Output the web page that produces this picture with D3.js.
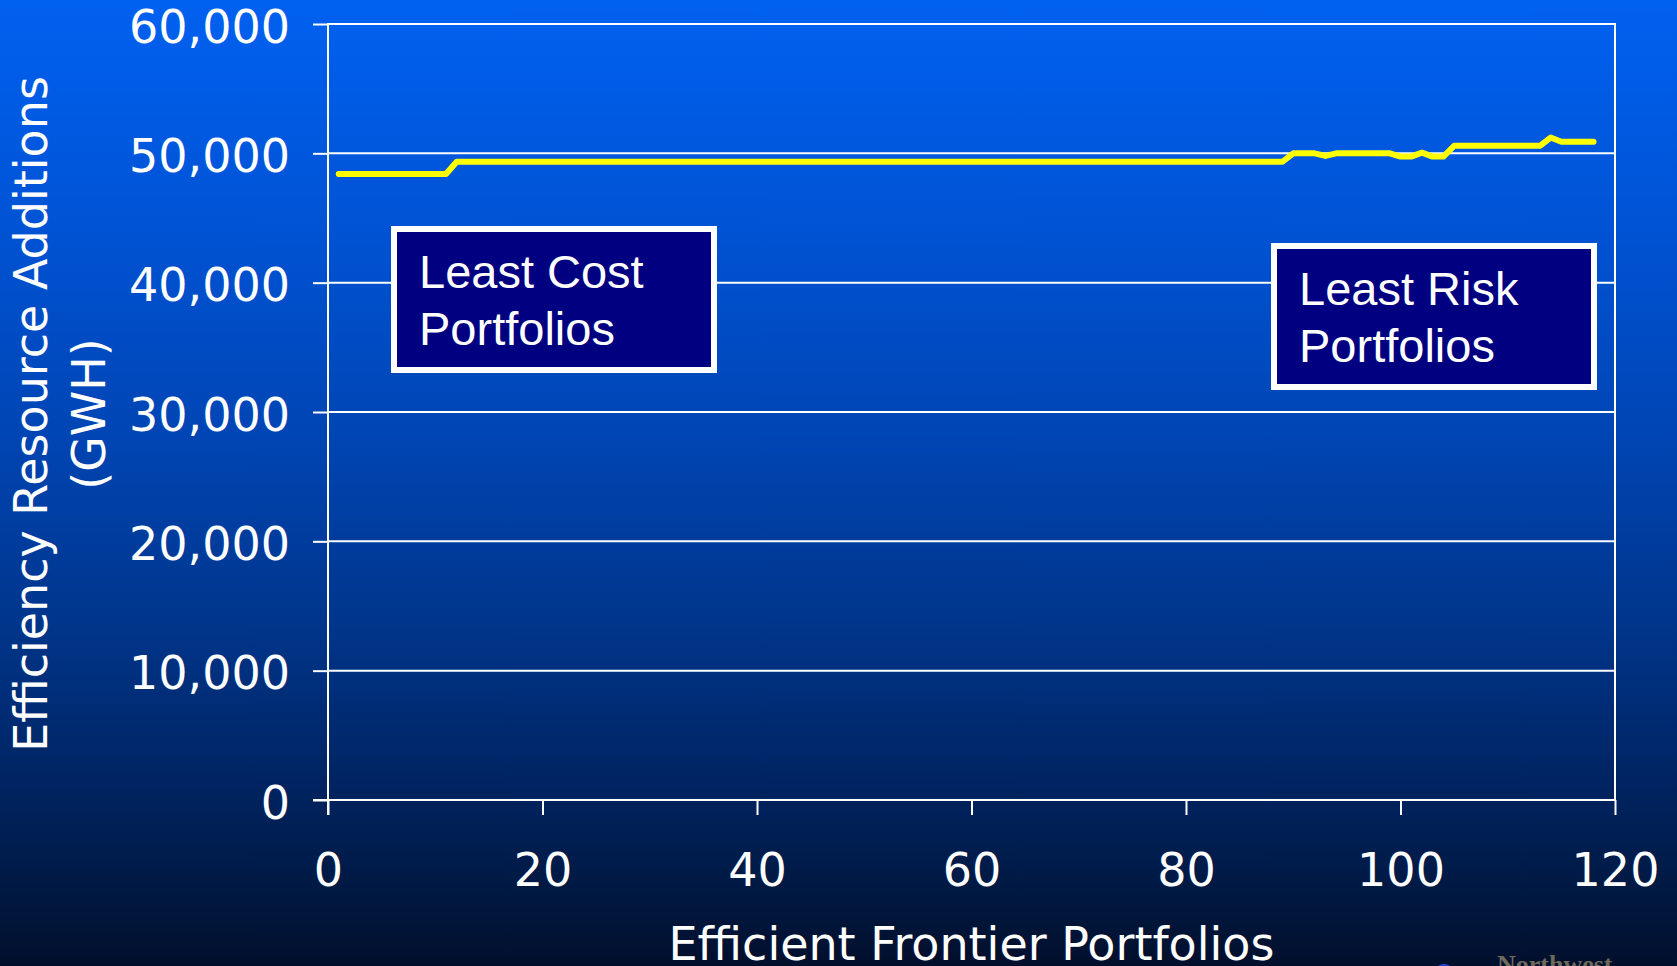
<!DOCTYPE html>
<html>
<head>
<meta charset="utf-8">
<script src="https://cdn.jsdelivr.net/npm/d3@7"></script>
<style>
  html, body { margin: 0; padding: 0; background: #000e2a; overflow: hidden; }
  svg { display: block; }
</style>
</head>
<body>
<svg id="chart" width="1677" height="966"></svg>
<script>
// Efficiency resource additions (GWH) for each efficient frontier portfolio 1..118
const portfolios = d3.range(1, 119);
const additions = [
  48400, 48400, 48400, 48400, 48400, 48400, 48400, 48400, 48400, 48400,
  48400, 49350, 49350, 49350, 49350, 49350, 49350, 49350, 49350, 49350,
  49350, 49350, 49350, 49350, 49350, 49350, 49350, 49350, 49350, 49350,
  49350, 49350, 49350, 49350, 49350, 49350, 49350, 49350, 49350, 49350,
  49350, 49350, 49350, 49350, 49350, 49350, 49350, 49350, 49350, 49350,
  49350, 49350, 49350, 49350, 49350, 49350, 49350, 49350, 49350, 49350,
  49350, 49350, 49350, 49350, 49350, 49350, 49350, 49350, 49350, 49350,
  49350, 49350, 49350, 49350, 49350, 49350, 49350, 49350, 49350, 49350,
  49350, 49350, 49350, 49350, 49350, 49350, 49350, 49350, 49350, 50000,
  50000, 50000, 49800, 50000, 50000, 50000, 50000, 50000, 50000, 49750,
  49750, 50050, 49750, 49750, 50580, 50580, 50580, 50580, 50580, 50580,
  50580, 50580, 50580, 51220, 50900, 50900, 50900, 50900
];
const xTicks = [0, 20, 40, 60, 80, 100, 120];
const yTicks = [0, 10000, 20000, 30000, 40000, 50000, 60000];
const xTitle = "Efficient Frontier Portfolios";
const yTitleLines = ["Efficiency Resource Additions", "(GWH)"];
const boxLeftLines = ["Least Cost", "Portfolios"];
const boxRightLines = ["Least Risk", "Portfolios"];

const W = 1677, H = 966;
const svg = d3.select("#chart");

// background: vertical blue-to-navy gradient
const defs = svg.append("defs");
const grad = defs.append("linearGradient")
  .attr("id", "bg").attr("x1", 0).attr("y1", 0).attr("x2", 0).attr("y2", 1);
[
  [0, "#0061f0"], [0.25, "#0052d2"], [0.45, "#0045b4"], [0.65, "#00358a"],
  [0.82, "#00235f"], [0.93, "#001840"], [1, "#020f2c"]
].forEach(([o, c]) => grad.append("stop").attr("offset", o).attr("stop-color", c));
svg.append("rect").attr("width", W).attr("height", H).attr("fill", "url(#bg)");

const plot = { left: 328, right: 1615, top: 24, bottom: 800 };
const x = d3.scaleLinear().domain([0, 120]).range([plot.left, plot.right]);
const y = d3.scaleLinear().domain([0, 60000]).range([plot.bottom, plot.top]);

const font = "'DejaVu Sans', Verdana, sans-serif";

// horizontal gridlines
svg.append("g").selectAll("line").data(yTicks.filter(d => d > 0)).join("line")
  .attr("x1", plot.left).attr("x2", plot.right + 1)
  .attr("y1", d => y(d)).attr("y2", d => y(d))
  .attr("stroke", "#ffffff").attr("stroke-width", 2);

// right frame line
svg.append("line")
  .attr("x1", plot.right).attr("x2", plot.right)
  .attr("y1", plot.top - 1).attr("y2", plot.bottom)
  .attr("stroke", "#ffffff").attr("stroke-width", 2);

// y axis
const yAxis = svg.append("g")
  .attr("transform", `translate(${plot.left},0)`)
  .call(d3.axisLeft(y).tickValues(yTicks).tickFormat(d3.format(",")).tickSizeInner(15).tickSizeOuter(0));
yAxis.select(".domain").attr("stroke", "#fff").attr("stroke-width", 2)
  .attr("d", `M0,${plot.top - 1}V${plot.bottom + 15}`);
yAxis.selectAll(".tick line").attr("stroke", "#fff").attr("stroke-width", 2);
yAxis.selectAll(".tick text")
  .attr("x", -38).attr("dy", 0).attr("y", 18)
  .attr("fill", "#fff").style("font-family", font).style("font-size", "46px")
  .attr("text-anchor", "end");

// x axis
const xAxis = svg.append("g")
  .attr("transform", `translate(0,${plot.bottom})`)
  .call(d3.axisBottom(x).tickValues(xTicks).tickSizeInner(15).tickSizeOuter(0));
xAxis.select(".domain").attr("stroke", "#fff").attr("stroke-width", 2)
  .attr("d", `M${plot.left - 15},0H${plot.right + 1}`);
xAxis.selectAll(".tick line").attr("stroke", "#fff").attr("stroke-width", 2);
xAxis.selectAll(".tick text")
  .attr("y", 86).attr("dy", 0)
  .attr("fill", "#fff").style("font-family", font).style("font-size", "46px");

// axis titles
svg.append("text")
  .attr("x", (plot.left + plot.right) / 2).attr("y", 960)
  .attr("text-anchor", "middle").attr("fill", "#fff")
  .style("font-family", font).style("font-size", "46px")
  .text(xTitle);

const yt = svg.append("text")
  .attr("transform", "translate(47,414) rotate(-90)")
  .attr("text-anchor", "middle").attr("fill", "#fff")
  .style("font-family", font).style("font-size", "46px");
yTitleLines.forEach((t, i) => yt.append("tspan").attr("x", 0).attr("y", i * 58).text(t));

// series line
const line = d3.line().x((d, i) => x(portfolios[i])).y(d => y(d));
svg.append("path")
  .datum(additions)
  .attr("d", line)
  .attr("fill", "none").attr("stroke", "#ffff00").attr("stroke-width", 6)
  .attr("stroke-linejoin", "round").attr("stroke-linecap", "round");

// annotation boxes
function annotation(left, top, lines) {
  const g = svg.append("g").attr("transform", `translate(${left},${top})`);
  g.append("rect").attr("x", 3).attr("y", 3).attr("width", 320).attr("height", 141)
    .attr("fill", "#000080").attr("stroke", "#fff").attr("stroke-width", 6);
  const t = g.append("text").attr("fill", "#fff")
    .style("font-family", "'Liberation Sans', Arial, sans-serif").style("font-size", "47px");
  lines.forEach((s, i) => t.append("tspan").attr("x", 28).attr("y", 62 + i * 57).text(s));
}
annotation(391, 226, boxLeftLines);
annotation(1271, 243, boxRightLines);

// footer mark at the bottom edge
svg.append("ellipse").attr("cx", 1444).attr("cy", 968).attr("rx", 7).attr("ry", 4).attr("fill", "#1c45c8");
svg.append("text")
  .attr("x", 1497).attr("y", 973)
  .attr("fill", "#6d6a5c")
  .style("font-family", "'Liberation Serif', 'Times New Roman', serif")
  .style("font-size", "26px").style("font-weight", "bold")
  .text("Northwest");
</script>
</body>
</html>
